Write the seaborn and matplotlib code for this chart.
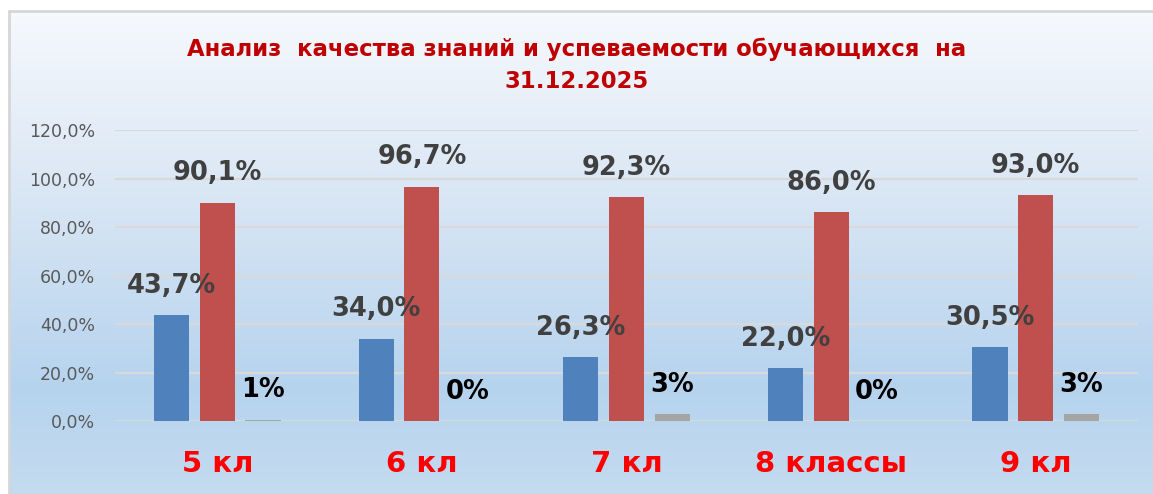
import numpy as np
import pandas as pd
import matplotlib
matplotlib.use("Agg")
import matplotlib.pyplot as plt
import seaborn as sns
from matplotlib.colors import LinearSegmentedColormap

# ---- data ----
categories = ["5 кл", "6 кл", "7 кл", "8 классы", "9 кл"]
series_names = ["Качество знаний", "Успеваемость", "Неуспевающие"]
quality = [43.7, 34.0, 26.3, 22.0, 30.5]
progress = [90.1, 96.7, 92.3, 86.0, 93.0]
failing = [0.6, 0.0, 2.8, 0.0, 2.8]
yticks = [0, 20, 40, 60, 80, 100, 120]
title = "Анализ  качества знаний и успеваемости обучающихся  на\n31.12.2025"

sns.set_theme(style="white")
plt.rcParams['font.family'] = ['DejaVu Sans']

W, H = 1153, 494
fig = plt.figure(figsize=(W / 100, H / 100), dpi=100)
fig.patch.set_facecolor("white")

# background gradient inside frame
bg = fig.add_axes([9 / W, 0, 1 - 9 / W, 1 - 11 / H], zorder=-5)
cmap = LinearSegmentedColormap.from_list(
    "bg", [(0.0, "#F6F9FD"), (0.35, "#DCE8F5"), (0.78, "#B6D3EE"), (1.0, "#C4DBF0")])
grad = np.linspace(0, 1, 256).reshape(-1, 1)
bg.imshow(grad, aspect="auto", cmap=cmap, extent=[0, 1, 0, 1], origin="upper")
bg.set_xlim(0, 1); bg.set_ylim(0, 1)
bg.axis("off")
fig.add_artist(plt.Line2D([9 / W, 1], [1 - 11 / H, 1 - 11 / H], color="#D6D6D6", lw=2, transform=fig.transFigure))
fig.add_artist(plt.Line2D([9 / W, 9 / W], [0, 1 - 11 / H], color="#D6D6D6", lw=2, transform=fig.transFigure))

ax = fig.add_axes([115 / W, 1 - 421 / H, (1138 - 115) / W, (421 - 130) / H])
ax.patch.set_alpha(0)

df = pd.DataFrame({
    "cat": categories * 3,
    "series": sum([[s] * len(categories) for s in series_names], []),
    "value": quality + progress + failing,
})
palette = {series_names[0]: "#4F81BD", series_names[1]: "#C0504D", series_names[2]: "#A5A5A5"}
sns.barplot(data=df, x="cat", y="value", hue="series", order=categories,
            hue_order=series_names, palette=palette, width=0.67, gap=0.23,
            legend=False, ax=ax, saturation=1, zorder=3, linewidth=0, edgecolor="none")

ax.set_xlim(-0.5, len(categories) - 0.5)
ax.set_ylim(0, 120)
ax.set_yticks(yticks)
ax.set_yticklabels([f"{t:.1f}".replace(".", ",") + "%" for t in yticks],
                   fontsize=12.5, color="#595959")
ax.grid(axis="y", color="#D9D9D9", lw=1.6, zorder=0)
ax.set_axisbelow(True)
for s in ax.spines.values():
    s.set_visible(False)
ax.tick_params(axis="both", length=0)
ax.tick_params(axis="y", pad=14.5)
ax.set_xlabel(""); ax.set_ylabel("")
ax.set_xticks(range(len(categories)))
ax.set_xticklabels(categories, fontsize=21, fontweight="bold", color="#FF0000")
ax.tick_params(axis="x", pad=21)

# data labels from bar containers
for ci, cont in enumerate(ax.containers):
    for bar, v in zip(cont.patches, cont.datavalues):
        xc = bar.get_x() + bar.get_width() / 2
        if ci < 2:
            txt = f"{v:.1f}".replace(".", ",") + "%"
            col = "#404040"
        else:
            txt = f"{v:.0f}%"
            col = "#000000"
        ax.text(xc, v + 12, txt, ha="center", va="center", fontsize=18.5,
                fontweight="bold", color=col, zorder=5)

fig.text(577 / W, 1 - 65 / H, title, ha="center", va="center", fontsize=16.4,
         fontweight="bold", color="#C00000", linespacing=1.5)

fig.savefig("out.png", dpi=100)
